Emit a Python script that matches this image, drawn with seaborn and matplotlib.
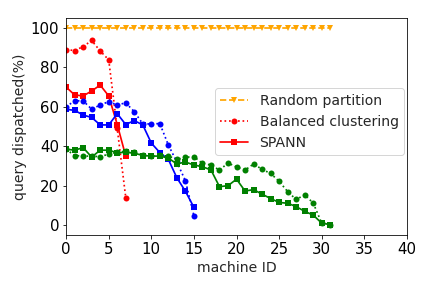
import matplotlib
matplotlib.use("Agg")
import matplotlib.pyplot as plt
import seaborn as sns

# ---------------- Data ---------------- #
random_x = list(range(32))
random_y = [100] * 32

x8 = list(range(8))
bal8 = [89, 88.5, 90.5, 93.6, 88.3, 83.8, 49, 14]
spann8 = [70, 66, 65.5, 68, 71, 65.5, 51, 35]

x16 = list(range(16))
bal16 = [60, 63, 63, 58.8, 60.9, 62.6, 60.9, 62, 57.5, 51.3, 51.3, 51.5,
         40.6, 32, 22.5, 4.7]
spann16 = [58.7, 58.2, 55.8, 54.6, 50.8, 50.8, 56.5, 51, 53, 50.8, 41.6,
           36.8, 33.3, 24, 17.2, 9]

x32 = list(range(32))
bal32 = [38.5, 35.3, 35, 35, 34.7, 36, 37, 37.5, 37, 35.5, 35, 35.5,
         35, 33.3, 34.4, 34.7, 31.3, 30.5, 27.9, 31.5, 29.5, 27.9, 31,
         28.3, 26.2, 22.2, 17, 13, 15.4, 11.2, 1, 0.3]
spann32 = [38.5, 38, 39.3, 34.5, 38, 38, 36.7, 36.9, 36.5, 35.3, 35, 35,
           34, 31, 32, 30.5, 29.6, 28, 19.5, 20, 23.3, 17.3, 18, 15.7,
           13.5, 11.5, 11.1, 9.4, 7, 5.1, 1, 0.3]

# ---------------- Plot ---------------- #
sns.set_style("ticks")
plt.rcParams["font.family"] = ["DejaVu Sans"]

fig, ax = plt.subplots(figsize=(6, 4), dpi=72)
fig.subplots_adjust(left=0.153, right=0.942, bottom=0.184, top=0.9375)

kw = dict(ax=ax, lw=1.7, markersize=6, markeredgewidth=0)

sns.lineplot(x=random_x, y=random_y, color="orange", linestyle="--",
             marker="v", label="Random partition", **kw)
sns.lineplot(x=x8, y=bal8, color="red", linestyle=":", marker="o",
             label="Balanced clustering", **kw)
sns.lineplot(x=x8, y=spann8, color="red", linestyle="-", marker="s",
             label="SPANN", **kw)

sns.lineplot(x=x16, y=bal16, color="blue", linestyle=":", marker="o", **kw)
sns.lineplot(x=x16, y=spann16, color="blue", linestyle="-", marker="s", **kw)
sns.lineplot(x=x32, y=bal32, color="green", linestyle=":", marker="o", **kw)
sns.lineplot(x=x32, y=spann32, color="green", linestyle="-", marker="s", **kw)

ax.set_xlim(0, 40)
ax.set_ylim(-5, 105)
ax.set_xticks(range(0, 41, 5))
ax.set_yticks(range(0, 101, 20))
ax.tick_params(labelsize=15, colors="black")
for s in ax.spines.values():
    s.set_color("black")
ax.set_xlabel("machine ID", fontsize=14)
ax.set_ylabel("query dispatched(%)", fontsize=14)

ax.legend(loc="center right", bbox_to_anchor=(1.0, 0.523), fontsize=14,
          borderaxespad=0.2)

plt.savefig("out.png", dpi=72)
plt.close()
